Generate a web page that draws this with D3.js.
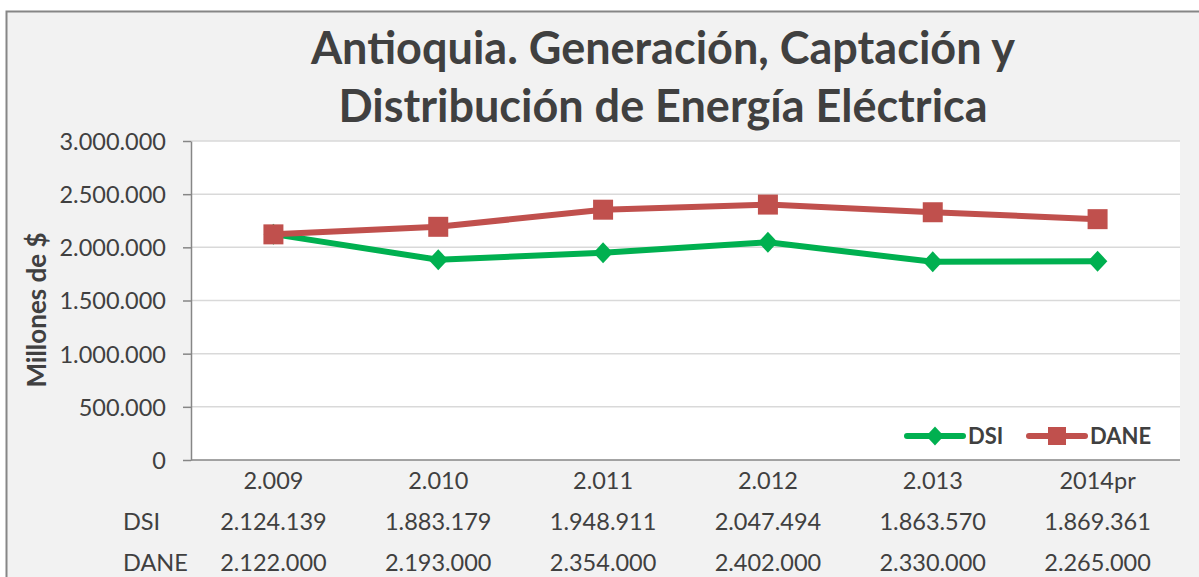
<!DOCTYPE html>
<html>
<head>
<meta charset="utf-8">
<script src="https://cdn.jsdelivr.net/npm/d3@7"></script>
<style>
  body { margin: 0; background: #fff; }
  text { font-family: Lato, "Open Sans", sans-serif; fill: #404040; }
</style>
</head>
<body>
<div id="chart"></div>
<script>
// data
var years = ["2.009", "2.010", "2.011", "2.012", "2.013", "2014pr"];
var dsiValues = [2124139, 1883179, 1948911, 2047494, 1863570, 1869361];
var daneValues = [2122000, 2193000, 2354000, 2402000, 2330000, 2265000];
var yTicks = [0, 500000, 1000000, 1500000, 2000000, 2500000, 3000000];
var seriesNames = ["DSI", "DANE"];

var svgWidth = 1199;
var svgHeight = 577;

var margin = { top: 141, right: 19, bottom: 117, left: 191 };
var width = svgWidth - margin.left - margin.right;
var height = svgHeight - margin.top - margin.bottom;

var green = "#00b050";
var red = "#c0504d";
var labelSize = "23.5px";

var es = d3.formatLocale({ decimal: ",", thousands: ".", grouping: [3], currency: ["$", ""] });
var fmt = es.format(",d");

var svg = d3.select("#chart")
  .append("svg")
  .attr("width", svgWidth)
  .attr("height", svgHeight);

// chart area background + border
svg.append("rect")
  .attr("x", 6.5)
  .attr("y", 11.5)
  .attr("width", svgWidth)
  .attr("height", svgHeight)
  .attr("fill", "#f2f2f2")
  .attr("stroke", "#868686")
  .attr("stroke-width", 2);

// title
var title = svg.append("text")
  .attr("text-anchor", "middle")
  .style("font-weight", "bold")
  .style("font-size", "45px");
title.append("tspan").attr("x", 663).attr("y", 64).text("Antioquia. Generación, Captación y");
title.append("tspan").attr("x", 663).attr("y", 122).text("Distribución de Energía Eléctrica");

var chartGroup = svg.append("g")
  .attr("transform", `translate(${margin.left}, ${margin.top})`);

chartGroup.append("rect")
  .attr("width", width)
  .attr("height", height)
  .attr("fill", "#fff");

var xScale = d3.scaleBand()
  .domain(years)
  .range([0, width]);

var yScale = d3.scaleLinear()
  .domain([0, 3000000])
  .range([height, 0]);

// gridlines
chartGroup.append("g")
  .selectAll("line")
  .data(yTicks.slice(1))
  .enter()
  .append("line")
  .attr("x1", 0)
  .attr("x2", width)
  .attr("y1", d => yScale(d))
  .attr("y2", d => yScale(d))
  .attr("stroke", "#d9d9d9")
  .attr("stroke-width", 1.5);

// y axis
var leftAxis = d3.axisLeft(yScale)
  .tickValues(yTicks)
  .tickFormat(fmt)
  .tickSizeInner(8)
  .tickSizeOuter(0)
  .tickPadding(17);

var yAxis = chartGroup.append("g").call(leftAxis);
yAxis.select(".domain").attr("stroke", "#868686").attr("stroke-width", 1.5);
yAxis.selectAll(".tick line").attr("stroke", "#868686").attr("stroke-width", 1.5);
yAxis.selectAll(".tick text")
  .style("font-size", labelSize)
  .attr("dy", "0.36em")
  .attr("fill", "#404040");

// x axis line
chartGroup.append("line")
  .attr("x1", 0)
  .attr("x2", width)
  .attr("y1", height)
  .attr("y2", height)
  .attr("stroke", "#868686")
  .attr("stroke-width", 1.5);

// y axis title
svg.append("text")
  .attr("transform", "translate(46, 310) rotate(-90)")
  .attr("text-anchor", "middle")
  .style("font-weight", "bold")
  .style("font-size", "26px")
  .text("Millones de $");

var cx = d => xScale(d) + xScale.bandwidth() / 2;

var lineGen = d3.line()
  .x((d, i) => cx(years[i]))
  .y(d => yScale(d));

// excel-style diamond: nearly as wide as it is tall
var diamondType = {
  draw: function (ctx, size) {
    var h = Math.sqrt(size) / 2;
    var w = h * 0.93;
    ctx.moveTo(0, -h);
    ctx.lineTo(w, 0);
    ctx.lineTo(0, h);
    ctx.lineTo(-w, 0);
    ctx.closePath();
  }
};
var diamond = d3.symbol().type(diamondType).size(441);
var square = d3.symbol().type(d3.symbolSquare).size(400);

// DSI line
chartGroup.append("path")
  .datum(dsiValues)
  .attr("d", lineGen)
  .attr("fill", "none")
  .attr("stroke", green)
  .attr("stroke-width", 6)
  .attr("stroke-linejoin", "round")
  .attr("stroke-linecap", "round");

// DANE line
chartGroup.append("path")
  .datum(daneValues)
  .attr("d", lineGen)
  .attr("fill", "none")
  .attr("stroke", red)
  .attr("stroke-width", 6)
  .attr("stroke-linejoin", "round")
  .attr("stroke-linecap", "round");

chartGroup.selectAll(".dsi-pt")
  .data(dsiValues)
  .enter()
  .append("path")
  .attr("class", "dsi-pt")
  .attr("d", diamond)
  .attr("transform", (d, i) => `translate(${cx(years[i])}, ${yScale(d)})`)
  .attr("fill", green);

chartGroup.selectAll(".dane-pt")
  .data(daneValues)
  .enter()
  .append("path")
  .attr("class", "dane-pt")
  .attr("d", square)
  .attr("transform", (d, i) => `translate(${cx(years[i])}, ${yScale(d)})`)
  .attr("fill", red);

// legend
var legend = svg.append("g").attr("transform", "translate(907, 436)");
var legendItems = [
  { name: seriesNames[0], color: green, sym: d3.symbol().type(diamondType).size(361), x: 0 },
  { name: seriesNames[1], color: red, sym: d3.symbol().type(d3.symbolSquare).size(324), x: 122 }
];
legendItems.forEach(function (it) {
  var g = legend.append("g").attr("transform", `translate(${it.x}, 0)`);
  g.append("line")
    .attr("x1", 0).attr("x2", 56)
    .attr("stroke", it.color)
    .attr("stroke-width", 6)
    .attr("stroke-linecap", "round");
  g.append("path")
    .attr("d", it.sym)
    .attr("transform", "translate(28, 0)")
    .attr("fill", it.color);
  g.append("text")
    .attr("x", 61)
    .attr("dy", "0.36em")
    .style("font-weight", "bold")
    .style("font-size", "22px")
    .text(it.name);
});

// data table under the x axis
var table = svg.append("g").attr("transform", `translate(${margin.left}, 0)`);

table.selectAll(".cat")
  .data(years)
  .enter()
  .append("text")
  .attr("x", d => cx(d))
  .attr("y", 489)
  .attr("text-anchor", "middle")
  .style("font-size", labelSize)
  .text(d => d);

var rows = [
  { name: seriesNames[0], values: dsiValues, y: 530 },
  { name: seriesNames[1], values: daneValues, y: 571 }
];
rows.forEach(function (row) {
  svg.append("text")
    .attr("x", 123)
    .attr("y", row.y)
    .style("font-size", labelSize)
    .text(row.name);
  table.selectAll(null)
    .data(row.values)
    .enter()
    .append("text")
    .attr("x", (d, i) => cx(years[i]))
    .attr("y", row.y)
    .attr("text-anchor", "middle")
    .style("font-size", labelSize)
    .text(d => fmt(d));
});
</script>
</body>
</html>
